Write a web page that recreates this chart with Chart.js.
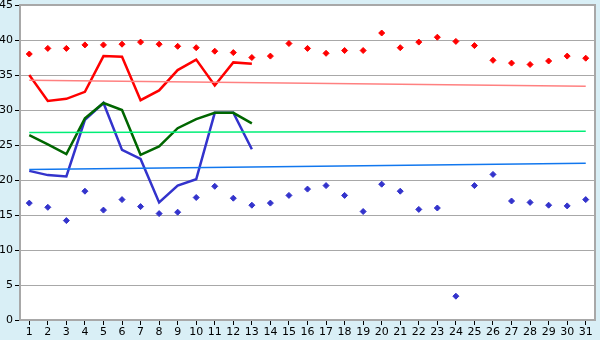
<!DOCTYPE html>
<html>
<head>
<meta charset="utf-8">
<script src="https://cdn.jsdelivr.net/npm/chart.js@4/dist/chart.umd.min.js"></script>
<style>
  html, body { margin: 0; padding: 0; background: #d9eff6; }
  #wrap { width: 600px; height: 340px; }
</style>
</head>
<body>
<div id="wrap"><canvas id="myChart"></canvas></div>
<script>
const days = ['1','2','3','4','5','6','7','8','9','10','11','12','13','14','15','16','17','18','19','20','21','22','23','24','25','26','27','28','29','30','31'];
const yTicks = [0, 5, 10, 15, 20, 25, 30, 35, 40, 45];

// daily points
const redPoints = [38.0, 38.8, 38.8, 39.3, 39.3, 39.4, 39.7, 39.4, 39.1, 38.9, 38.4, 38.2, 37.5, 37.7, 39.5, 38.8, 38.1, 38.5, 38.5, 41.0, 38.9, 39.7, 40.4, 39.8, 39.2, 37.1, 36.7, 36.5, 37.0, 37.7, 37.4];
const bluePoints = [16.7, 16.1, 14.2, 18.4, 15.7, 17.2, 16.2, 15.2, 15.4, 17.5, 19.1, 17.4, 16.4, 16.7, 17.8, 18.7, 19.2, 17.8, 15.5, 19.4, 18.4, 15.8, 16.0, 3.4, 19.2, 20.8, 17.0, 16.8, 16.4, 16.3, 17.2];

// thick lines, first 13 days
const redLine = [35.0, 31.3, 31.6, 32.6, 37.7, 37.6, 31.4, 32.8, 35.7, 37.2, 33.5, 36.8, 36.6];
const greenLine = [26.4, 25.1, 23.7, 28.8, 31.0, 30.0, 23.6, 24.8, 27.4, 28.7, 29.6, 29.6, 28.1];
const blueLine = [21.3, 20.7, 20.5, 28.6, 31.0, 24.3, 23.0, 16.8, 19.2, 20.1, 29.6, 29.6, 24.4];

// trend lines: value at day 1 and day 31
const redTrend = [34.25, 33.38];
const greenTrend = [26.8, 26.95];
const blueTrend = [21.5, 22.4];

function ends(pair) {
  const arr = days.map(() => null);
  arr[0] = pair[0];
  arr[days.length - 1] = pair[1];
  return arr;
}

const bgPlugin = {
  id: 'bg',
  beforeDraw(chart) {
    const c = chart.ctx, a = chart.chartArea;
    c.save();
    c.fillStyle = '#d9eff6';
    c.fillRect(0, 0, chart.width, chart.height);
    c.fillStyle = '#ffffff';
    c.fillRect(a.left, a.top, a.right - a.left, a.bottom - a.top);
    c.restore();
  },
  afterDatasetsDraw(chart) {
    const c = chart.ctx, a = chart.chartArea;
    c.save();
    c.strokeStyle = '#a8a8a8';
    c.lineWidth = 2;
    c.beginPath();
    c.moveTo(a.left, a.top);
    c.lineTo(a.right, a.top);
    c.lineTo(a.right, a.bottom);
    c.stroke();
    c.restore();
  }
};

const lineDs = (label, data, color, width) => ({
  type: 'line', label, data, borderColor: color, backgroundColor: color,
  borderWidth: width, pointRadius: 0, fill: false, tension: 0, spanGaps: true
});
const pointDs = (label, data, color) => ({
  type: 'line', label, data, showLine: false, borderColor: color, backgroundColor: color,
  pointStyle: 'rectRot', pointRadius: 3, pointBorderWidth: 1
});

const ctx = document.getElementById('myChart').getContext('2d');
const myChart = new Chart(ctx, {
  type: 'line',
  data: {
    labels: days,
    datasets: [
      lineDs('Red trend', ends(redTrend), '#ff8080', 1.5),
      lineDs('Green trend', ends(greenTrend), '#00ee77', 1.5),
      lineDs('Blue trend', ends(blueTrend), '#1177ee', 1.5),
      lineDs('Red', redLine, '#ff0000', 2.5),
      lineDs('Green', greenLine, '#006600', 2.5),
      lineDs('Blue', blueLine, '#3333cc', 2.5),
      pointDs('Red points', redPoints, '#ff0000'),
      pointDs('Blue points', bluePoints, '#3333cc')
    ]
  },
  options: {
    responsive: true,
    maintainAspectRatio: false,
    animation: false,
    layout: { padding: { top: 0, right: 5, left: 0, bottom: 0 } },
    plugins: { legend: { display: false }, tooltip: { enabled: false } },
    scales: {
      x: {
        offset: true,
        grid: { offset: false, drawOnChartArea: false, drawTicks: true, tickLength: 5, color: '#000000' },
        border: { display: true, color: '#a8a8a8', width: 2 },
        ticks: { color: '#000', font: { family: 'DejaVu Sans', size: 11 }, padding: 1, maxRotation: 0, autoSkip: false },
        afterFit(scale) { scale.height = 20; }
      },
      y: {
        min: 0, max: 45,
        afterBuildTicks(scale) { scale.ticks = yTicks.map(v => ({ value: v })); },
        grid: { color: '#a8a8a8', lineWidth: 1, drawTicks: true, tickLength: 5, tickColor: '#000' },
        border: { display: true, color: '#a8a8a8', width: 2 },
        ticks: { color: '#000', font: { family: 'DejaVu Sans', size: 11, lineHeight: 0.9 }, padding: 2 },
        afterFit(scale) { scale.width = 20; scale.paddingTop = 5; }
      }
    }
  },
  plugins: [bgPlugin]
});
</script>
</body>
</html>
